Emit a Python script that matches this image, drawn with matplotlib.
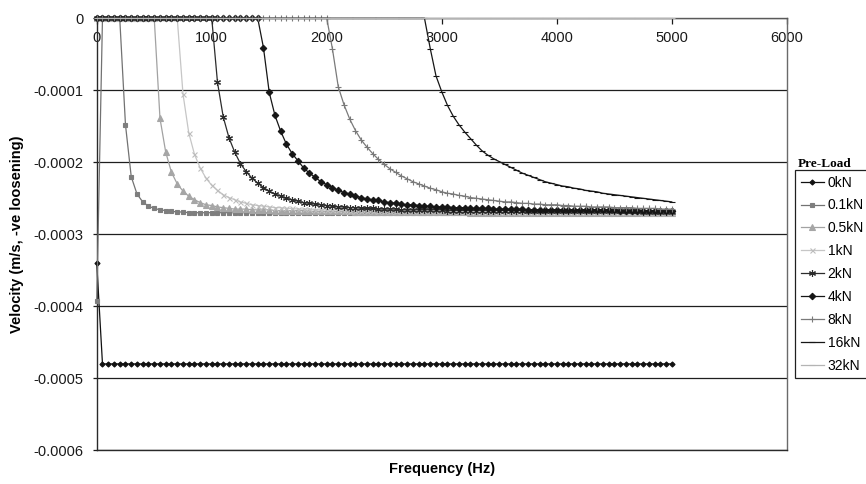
import matplotlib
matplotlib.use('agg')
import matplotlib.pyplot as plt
import numpy as np

plt.rcParams['font.family'] = ['Liberation Sans', 'DejaVu Sans']
plt.rcParams['font.size'] = 10.5

# excitation frequency, 50 Hz steps
freq_hz = list(range(0, 5001, 50))

# nut velocity for each pre-load, in units of 1e-4 m/s (negative = loosening)
vel_0kN = [
    -3.40, -4.80, -4.80, -4.80, -4.80, -4.80, -4.80, -4.80, -4.80, -4.80,
    -4.80, -4.80, -4.80, -4.80, -4.80, -4.80, -4.80, -4.80, -4.80, -4.80,
    -4.80, -4.80, -4.80, -4.80, -4.80, -4.80, -4.80, -4.80, -4.80, -4.80,
    -4.80, -4.80, -4.80, -4.80, -4.80, -4.80, -4.80, -4.80, -4.80, -4.80,
    -4.80, -4.80, -4.80, -4.80, -4.80, -4.80, -4.80, -4.80, -4.80, -4.80,
    -4.80, -4.80, -4.80, -4.80, -4.80, -4.80, -4.80, -4.80, -4.80, -4.80,
    -4.80, -4.80, -4.80, -4.80, -4.80, -4.80, -4.80, -4.80, -4.80, -4.80,
    -4.80, -4.80, -4.80, -4.80, -4.80, -4.80, -4.80, -4.80, -4.80, -4.80,
    -4.80, -4.80, -4.80, -4.80, -4.80, -4.80, -4.80, -4.80, -4.80, -4.80,
    -4.80, -4.80, -4.80, -4.80, -4.80, -4.80, -4.80, -4.80, -4.80, -4.80,
    -4.80]
vel_01kN = [
    -3.93, 0.00, 0.00, 0.00, 0.00, -1.48, -2.20, -2.44, -2.55, -2.61,
    -2.64, -2.66, -2.67, -2.68, -2.69, -2.69, -2.70, -2.70, -2.70, -2.70,
    -2.70, -2.70, -2.70, -2.70, -2.70, -2.70, -2.70, -2.70, -2.70, -2.70,
    -2.71, -2.71, -2.71, -2.71, -2.71, -2.71, -2.71, -2.71, -2.71, -2.71,
    -2.71, -2.71, -2.71, -2.71, -2.71, -2.71, -2.71, -2.71, -2.71, -2.71,
    -2.71, -2.71, -2.71, -2.71, -2.71, -2.71, -2.71, -2.71, -2.71, -2.71,
    -2.71, -2.71, -2.71, -2.71, -2.71, -2.71, -2.71, -2.71, -2.71, -2.71,
    -2.71, -2.71, -2.71, -2.71, -2.71, -2.71, -2.71, -2.71, -2.71, -2.71,
    -2.71, -2.71, -2.71, -2.71, -2.71, -2.71, -2.71, -2.71, -2.71, -2.71,
    -2.71, -2.71, -2.71, -2.71, -2.71, -2.71, -2.71, -2.71, -2.71, -2.71,
    -2.71]
vel_05kN = [
    0.00, 0.00, 0.00, 0.00, 0.00, 0.00, 0.00, 0.00, 0.00, 0.00,
    0.00, -1.39, -1.86, -2.14, -2.30, -2.40, -2.47, -2.52, -2.56, -2.59,
    -2.60, -2.62, -2.63, -2.64, -2.65, -2.65, -2.65, -2.66, -2.66, -2.66,
    -2.66, -2.67, -2.67, -2.67, -2.67, -2.67, -2.67, -2.68, -2.68, -2.68,
    -2.68, -2.68, -2.68, -2.68, -2.68, -2.69, -2.69, -2.69, -2.69, -2.69,
    -2.69, -2.69, -2.69, -2.69, -2.69, -2.69, -2.69, -2.69, -2.69, -2.69,
    -2.69, -2.69, -2.69, -2.69, -2.69, -2.70, -2.70, -2.70, -2.70, -2.70,
    -2.70, -2.70, -2.70, -2.70, -2.70, -2.70, -2.70, -2.70, -2.70, -2.70,
    -2.70, -2.70, -2.70, -2.70, -2.70, -2.70, -2.70, -2.70, -2.70, -2.70,
    -2.70, -2.70, -2.70, -2.70, -2.70, -2.70, -2.70, -2.70, -2.70, -2.70,
    -2.70]
vel_1kN = [
    0.00, 0.00, 0.00, 0.00, 0.00, 0.00, 0.00, 0.00, 0.00, 0.00,
    0.00, 0.00, 0.00, 0.00, 0.00, -1.05, -1.59, -1.89, -2.08, -2.22,
    -2.32, -2.39, -2.45, -2.49, -2.52, -2.55, -2.57, -2.59, -2.60, -2.61,
    -2.62, -2.63, -2.63, -2.64, -2.64, -2.65, -2.65, -2.65, -2.66, -2.66,
    -2.66, -2.66, -2.66, -2.67, -2.67, -2.67, -2.67, -2.67, -2.67, -2.67,
    -2.67, -2.67, -2.67, -2.67, -2.67, -2.68, -2.68, -2.68, -2.68, -2.68,
    -2.68, -2.68, -2.68, -2.68, -2.68, -2.68, -2.68, -2.68, -2.68, -2.68,
    -2.69, -2.69, -2.69, -2.69, -2.69, -2.69, -2.69, -2.69, -2.69, -2.69,
    -2.69, -2.69, -2.69, -2.69, -2.69, -2.69, -2.69, -2.69, -2.69, -2.69,
    -2.69, -2.69, -2.69, -2.69, -2.69, -2.70, -2.70, -2.70, -2.70, -2.70,
    -2.70]
vel_2kN = [
    0.00, 0.00, 0.00, 0.00, 0.00, 0.00, 0.00, 0.00, 0.00, 0.00,
    0.00, 0.00, 0.00, 0.00, 0.00, 0.00, 0.00, 0.00, 0.00, 0.00,
    0.00, -0.89, -1.37, -1.66, -1.86, -2.02, -2.13, -2.22, -2.29, -2.35,
    -2.40, -2.44, -2.47, -2.50, -2.52, -2.54, -2.56, -2.57, -2.58, -2.59,
    -2.60, -2.61, -2.62, -2.62, -2.63, -2.63, -2.64, -2.64, -2.64, -2.65,
    -2.65, -2.65, -2.65, -2.66, -2.66, -2.66, -2.66, -2.66, -2.66, -2.66,
    -2.66, -2.67, -2.67, -2.67, -2.67, -2.67, -2.67, -2.67, -2.67, -2.67,
    -2.67, -2.67, -2.67, -2.67, -2.67, -2.68, -2.68, -2.68, -2.68, -2.68,
    -2.68, -2.68, -2.68, -2.68, -2.68, -2.68, -2.68, -2.68, -2.68, -2.68,
    -2.68, -2.68, -2.68, -2.68, -2.68, -2.69, -2.69, -2.69, -2.69, -2.69,
    -2.69]
vel_4kN = [
    0.00, 0.00, 0.00, 0.00, 0.00, 0.00, 0.00, 0.00, 0.00, 0.00,
    0.00, 0.00, 0.00, 0.00, 0.00, 0.00, 0.00, 0.00, 0.00, 0.00,
    0.00, 0.00, 0.00, 0.00, 0.00, 0.00, 0.00, 0.00, 0.00, -0.41,
    -1.03, -1.35, -1.57, -1.75, -1.88, -1.98, -2.08, -2.15, -2.21, -2.27,
    -2.31, -2.35, -2.39, -2.42, -2.44, -2.47, -2.49, -2.51, -2.52, -2.53,
    -2.55, -2.56, -2.57, -2.58, -2.59, -2.59, -2.60, -2.61, -2.61, -2.62,
    -2.62, -2.62, -2.63, -2.63, -2.63, -2.64, -2.64, -2.64, -2.64, -2.65,
    -2.65, -2.65, -2.65, -2.65, -2.65, -2.66, -2.66, -2.66, -2.66, -2.66,
    -2.66, -2.66, -2.66, -2.66, -2.66, -2.66, -2.66, -2.66, -2.66, -2.66,
    -2.66, -2.67, -2.67, -2.67, -2.67, -2.67, -2.67, -2.67, -2.67, -2.67,
    -2.67]
vel_8kN = [
    0.00, 0.00, 0.00, 0.00, 0.00, 0.00, 0.00, 0.00, 0.00, 0.00,
    0.00, 0.00, 0.00, 0.00, 0.00, 0.00, 0.00, 0.00, 0.00, 0.00,
    0.00, 0.00, 0.00, 0.00, 0.00, 0.00, 0.00, 0.00, 0.00, 0.00,
    0.00, 0.00, 0.00, 0.00, 0.00, 0.00, 0.00, 0.00, 0.00, 0.00,
    0.00, -0.43, -0.95, -1.20, -1.40, -1.56, -1.69, -1.79, -1.88, -1.96,
    -2.03, -2.09, -2.14, -2.19, -2.23, -2.27, -2.30, -2.33, -2.36, -2.38,
    -2.41, -2.43, -2.44, -2.46, -2.47, -2.49, -2.50, -2.51, -2.52, -2.53,
    -2.54, -2.55, -2.55, -2.56, -2.57, -2.57, -2.58, -2.58, -2.59, -2.59,
    -2.59, -2.60, -2.60, -2.61, -2.61, -2.61, -2.62, -2.62, -2.62, -2.62,
    -2.63, -2.63, -2.63, -2.63, -2.64, -2.64, -2.64, -2.64, -2.65, -2.65,
    -2.65]
vel_16kN = [
    0.00, 0.00, 0.00, 0.00, 0.00, 0.00, 0.00, 0.00, 0.00, 0.00,
    0.00, 0.00, 0.00, 0.00, 0.00, 0.00, 0.00, 0.00, 0.00, 0.00,
    0.00, 0.00, 0.00, 0.00, 0.00, 0.00, 0.00, 0.00, 0.00, 0.00,
    0.00, 0.00, 0.00, 0.00, 0.00, 0.00, 0.00, 0.00, 0.00, 0.00,
    0.00, 0.00, 0.00, 0.00, 0.00, 0.00, 0.00, 0.00, 0.00, 0.00,
    0.00, 0.00, 0.00, 0.00, 0.00, 0.00, 0.00, 0.00, -0.42, -0.80,
    -1.02, -1.21, -1.36, -1.48, -1.58, -1.67, -1.76, -1.84, -1.90, -1.95,
    -1.99, -2.03, -2.07, -2.11, -2.15, -2.18, -2.21, -2.24, -2.27, -2.29,
    -2.31, -2.33, -2.34, -2.36, -2.37, -2.39, -2.40, -2.41, -2.43, -2.44,
    -2.45, -2.46, -2.47, -2.48, -2.49, -2.50, -2.51, -2.52, -2.53, -2.54,
    -2.55]
vel_32kN = [
    0.00, 0.00, 0.00, 0.00, 0.00, 0.00, 0.00, 0.00, 0.00, 0.00,
    0.00, 0.00, 0.00, 0.00, 0.00, 0.00, 0.00, 0.00, 0.00, 0.00,
    0.00, 0.00, 0.00, 0.00, 0.00, 0.00, 0.00, 0.00, 0.00, 0.00,
    0.00, 0.00, 0.00, 0.00, 0.00, 0.00, 0.00, 0.00, 0.00, 0.00,
    0.00, 0.00, 0.00, 0.00, 0.00, 0.00, 0.00, 0.00, 0.00, 0.00,
    0.00, 0.00, 0.00, 0.00, 0.00, 0.00, 0.00, 0.00, 0.00, 0.00,
    0.00, 0.00, 0.00, 0.00, 0.00, 0.00, 0.00, 0.00, 0.00, 0.00,
    0.00, 0.00, 0.00, 0.00, 0.00, 0.00, 0.00, 0.00, 0.00, 0.00,
    0.00, 0.00, 0.00, 0.00, 0.00, 0.00, 0.00, 0.00, 0.00, 0.00,
    0.00, 0.00, 0.00, 0.00, 0.00, 0.00, 0.00, 0.00, 0.00, 0.00,
    0.00]

preload_labels = ['0kN', '0.1kN', '0.5kN', '1kN', '2kN', '4kN', '8kN', '16kN', '32kN']
velocities = [vel_0kN, vel_01kN, vel_05kN, vel_1kN, vel_2kN,
              vel_4kN, vel_8kN, vel_16kN, vel_32kN]

xtick_values = [0, 1000, 2000, 3000, 4000, 5000, 6000]
ytick_values = [0, -0.0001, -0.0002, -0.0003, -0.0004, -0.0005, -0.0006]
ytick_labels = ['0', '-0.0001', '-0.0002', '-0.0003', '-0.0004', '-0.0005', '-0.0006']

# (line colour, marker, marker size, marker colour) per series
styles = [
    ('#111111', 'D', 2.6, '#111111'),
    ('#727272', 's', 3.4, '#7e7e7e'),
    ('#a2a2a2', '^', 4.2, '#a6a6a6'),
    ('#c6c6c6', 'x', 3.6, '#bdbdbd'),
    ('#2c2c2c', (6, 2, 0), 5.0, '#2c2c2c'),
    ('#161616', 'D', 3.3, '#161616'),
    ('#7a7a7a', '+', 5.0, '#7a7a7a'),
    ('#161616', '_', 4.0, '#161616'),
    ('#b4b4b4', '_', 4.0, '#b4b4b4'),
]

fig = plt.figure(figsize=(8.66, 4.84), dpi=100)
ax = fig.add_axes([0.1117, 0.0696, 0.7968, 0.8926])

ax.yaxis.grid(True, color='#1e1e1e', linewidth=0.9)
ax.set_axisbelow(True)

handles = []
for vel, label, (lc, mk, ms, mc) in zip(velocities, preload_labels, styles):
    h, = ax.plot(freq_hz, np.array(vel) * 1e-4, color=lc, linewidth=0.9,
                 marker=mk, markersize=ms, markerfacecolor=mc,
                 markeredgecolor=mc, markeredgewidth=0.8,
                 label=label, clip_on=False, zorder=3)
    handles.append(h)

ax.set_xlim(0, 6000)
ax.set_ylim(-0.0006, 0)
ax.set_xticks(xtick_values)
ax.set_yticks(ytick_values)
ax.set_yticklabels(ytick_labels)

# horizontal axis crosses at zero, i.e. along the top edge
ax.xaxis.set_ticks_position('top')
ax.tick_params(axis='x', direction='in', length=4, width=0.9, pad=-19.5,
               labeltop=True, labelbottom=False, colors='#1a1a1a')
ax.tick_params(axis='y', direction='out', length=3, width=0.9, pad=6.3,
               colors='#1a1a1a')

ax.spines['top'].set_color('#5a5a5a')
ax.spines['left'].set_color('#2a2a2a')
ax.spines['right'].set_color('#6a6a6a')
ax.spines['bottom'].set_color('#2a2a2a')
for s in ax.spines.values():
    s.set_linewidth(1.0)

ax.xaxis.set_label_position('bottom')
ax.set_xlabel('Frequency (Hz)', fontweight='bold')
ax.xaxis.set_label_coords(0.5, -0.027)
ax.set_ylabel('Velocity (m/s, -ve loosening)', fontweight='bold')
ax.yaxis.set_label_coords(-0.1054, 0.5)

leg = ax.legend(handles=handles, loc='upper left',
                bbox_to_anchor=(795 / 866, 1 - 170 / 484),
                bbox_transform=fig.transFigure, frameon=True, fancybox=False,
                framealpha=1, edgecolor='#202020', borderpad=0.4,
                borderaxespad=0, handlelength=1.7, handletextpad=0.25,
                labelspacing=0.64, numpoints=1, fontsize=10)
leg.get_frame().set_linewidth(0.9)

fig.text(798 / 866, 1 - 164 / 484, 'Pre-Load', family='Liberation Serif',
         fontweight='bold', fontsize=9.5, ha='left', va='center')

fig.savefig('out.png', dpi=100)
